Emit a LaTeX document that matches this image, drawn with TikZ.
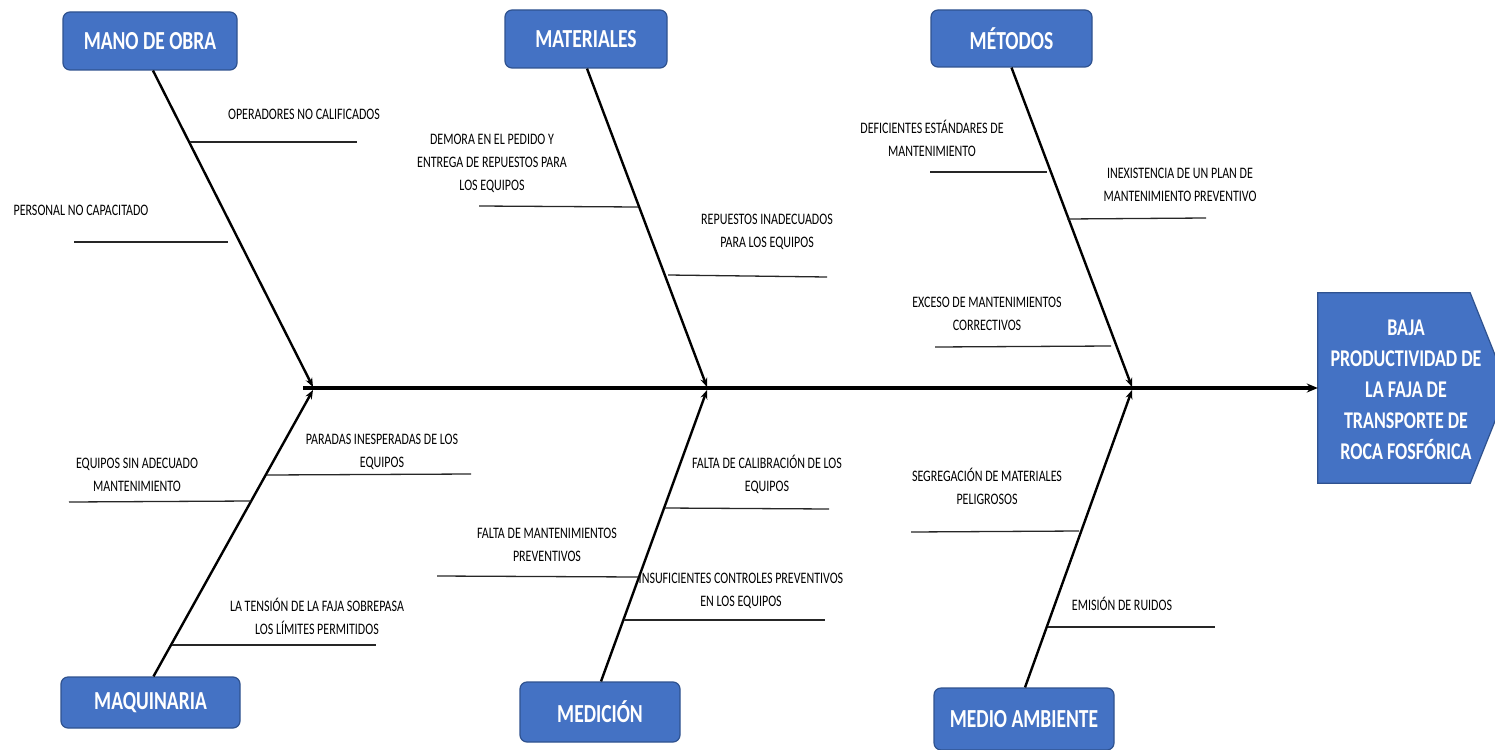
\documentclass[tikz,border=0pt]{standalone}
\usepackage{fontspec}
\setmainfont{Carlito}[FakeStretch=0.75]
\usetikzlibrary{arrows.meta,calc}
\definecolor{boxfill}{RGB}{68,114,196}
\definecolor{boxline}{RGB}{47,82,143}
\begin{document}
\begin{tikzpicture}[x=1pt,y=-1pt,
  catbox/.style={draw=boxline,line width=1.2pt,fill=boxfill,rounded corners=7pt,
    text=white,font=\bfseries\fontsize{26}{30}\selectfont,inner sep=0pt},
  cause/.style={font=\fontsize{16}{23}\selectfont,align=center,inner sep=0pt,text=black},
  headtxt/.style={font=\bfseries\fontsize{24}{31}\selectfont,align=center,inner sep=0pt,text=white},
  bone/.style={line width=2.4pt,-{Stealth[length=9pt,width=7pt]}},
  spine/.style={line width=3.2pt,-{Stealth[length=11pt,width=9pt]}},
  twig/.style={line width=1.3pt,black!85}]
\useasboundingbox (0,0) rectangle (1495,749);

% category boxes
\node[catbox,minimum width=174pt,minimum height=58pt] (mo) at (150,41) {MANO DE OBRA};
\node[catbox,minimum width=162pt,minimum height=58pt] (mat) at (586,39) {MATERIALES};
\node[catbox,minimum width=161pt,minimum height=57pt] (met) at (1011.5,38.5) {MÉTODOS};
\node[catbox,minimum width=179pt,minimum height=51pt] (maq) at (150.5,702.5) {MAQUINARIA};
\node[catbox,minimum width=160pt,minimum height=60pt] (med) at (600,712) {MEDICIÓN};
\node[catbox,minimum width=180pt,minimum height=62pt] (amb) at (1024,719) {MEDIO AMBIENTE};

% head
\node[minimum width=152pt,minimum height=190pt,inner sep=0pt] (head) at (1394,388) {};
\draw[draw=boxline,line width=1.2pt,fill=boxfill]
  (head.north west) -- (head.north east) -- ($(head.east)+(38,0)$) -- (head.south east) -- (head.south west) -- cycle;
\node[headtxt] (headlabel) at (1406,390) {BAJA\\PRODUCTIVIDAD DE\\LA FAJA DE\\TRANSPORTE DE\\ROCA FOSFÓRICA};

% spine
\coordinate (tail) at (303,388);
\coordinate (j1t) at (313,387);
\coordinate (j2t) at (707,387);
\coordinate (j3t) at (1132,387);
\coordinate (j1b) at (313,390);
\coordinate (j2b) at (707,390);
\coordinate (j3b) at (1132,390);
\draw[spine] (tail) -- (head.west);

% bones
\draw[bone] (mo.south) ++(3,0) -- (j1t);
\draw[bone] (mat.south) ++(1,0) -- (j2t);
\draw[bone] (met.south) -- (j3t);
\draw[bone] (maq.north) ++(3,0) -- (j1b);
\draw[bone] (med.north) ++(1,0) -- (j2b);
\draw[bone] (amb.north) ++(1,0) -- (j3b);

% cause lines (twigs)
\coordinate (a1) at (190,142); \coordinate (a2) at (357,142);
\coordinate (b1) at (74,242);  \coordinate (b2) at (228,242);
\coordinate (c1) at (479,206); \coordinate (c2) at (638,207);
\coordinate (d1) at (668,275); \coordinate (d2) at (827,277);
\coordinate (e1) at (930,172); \coordinate (e2) at (1047,172);
\coordinate (f1) at (1067,219); \coordinate (f2) at (1206,218);
\coordinate (g1) at (935,347); \coordinate (g2) at (1111,346);
\coordinate (h1) at (69,502);  \coordinate (h2) at (251,501);
\coordinate (i1) at (267,475); \coordinate (i2) at (471,474);
\coordinate (k1) at (172,645); \coordinate (k2) at (376,645);
\coordinate (l1) at (665,508); \coordinate (l2) at (829,509);
\coordinate (m1) at (437,576); \coordinate (m2) at (638,577);
\coordinate (n1) at (624,620); \coordinate (n2) at (825,620);
\coordinate (o1) at (911,532); \coordinate (o2) at (1079,531);
\coordinate (p1) at (1048,627); \coordinate (p2) at (1215,627);
\foreach \s in {a,b,c,d,e,f,g,h,i,k,l,m,n,o,p}{\draw[twig] (\s1) -- (\s2);}

% cause texts
\node[cause] (ta) at (304,114) {OPERADORES NO CALIFICADOS};
\node[cause] (tb) at (81,210) {PERSONAL NO CAPACITADO};
\node[cause] (tc) at (492,163) {DEMORA EN EL PEDIDO Y\\ENTREGA DE REPUESTOS PARA\\LOS EQUIPOS};
\node[cause] (td) at (767,232) {REPUESTOS INADECUADOS\\PARA LOS EQUIPOS};
\node[cause] (te) at (932,138) {DEFICIENTES ESTÁNDARES DE\\MANTENIMIENTO};
\node[cause] (tf) at (1180,185) {INEXISTENCIA DE UN PLAN DE\\MANTENIMIENTO PREVENTIVO};
\node[cause] (tg) at (987,314) {EXCESO DE MANTENIMIENTOS\\CORRECTIVOS};
\node[cause] (th) at (137,475) {EQUIPOS SIN ADECUADO\\MANTENIMIENTO};
\node[cause] (ti) at (382,452) {PARADAS INESPERADAS DE LOS\\EQUIPOS};
\node[cause] (tk) at (317,616) {LA TENSIÓN DE LA FAJA SOBREPASA\\LOS LÍMITES PERMITIDOS};
\node[cause] (tl) at (767,474) {FALTA DE CALIBRACIÓN DE LOS\\EQUIPOS};
\node[cause] (tm) at (547,545) {FALTA DE MANTENIMIENTOS\\PREVENTIVOS};
\node[cause] (tn) at (741,591) {INSUFICIENTES CONTROLES PREVENTIVOS\\EN LOS EQUIPOS};
\node[cause] (to) at (987,486) {SEGREGACIÓN DE MATERIALES\\PELIGROSOS};
\node[cause] (tp) at (1122,604) {EMISIÓN DE RUIDOS};
\end{tikzpicture}
\end{document}
